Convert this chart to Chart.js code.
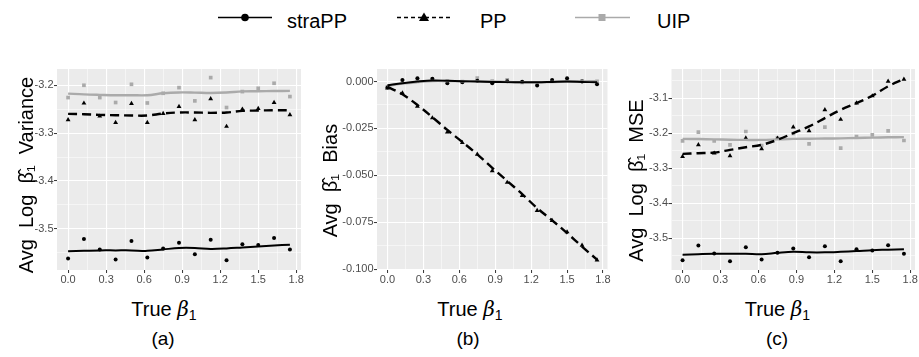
<!DOCTYPE html>
<html>
<head>
<meta charset="utf-8">
<script src="https://cdn.jsdelivr.net/npm/chart.js@4.4.1/dist/chart.umd.min.js"></script>
<style>
  html, body { margin: 0; padding: 0; background: #ffffff; }
  #wrap { position: relative; width: 919px; height: 357px; overflow: hidden; }
  #wrap canvas { position: absolute; }
  #labels { position: absolute; left: 0; top: 0; font-family: 'Liberation Sans', Arial, sans-serif; }
</style>
</head>
<body>
<div id="wrap">
  <svg id="labels" width="919" height="357">
    <!-- legend -->
    <line x1="218" y1="17.5" x2="272" y2="17.5" stroke="#000" stroke-width="1.4"/>
    <circle cx="245" cy="17.5" r="3.8" fill="#000"/>
    <text x="287" y="28" font-size="20">straPP</text>
    <line x1="397" y1="17.5" x2="452" y2="17.5" stroke="#000" stroke-width="1.3" stroke-dasharray="4 3"/>
    <polygon points="424,12.5 429,21 419,21" fill="#000"/>
    <text x="480" y="28" font-size="20">PP</text>
    <line x1="575" y1="17.5" x2="630" y2="17.5" stroke="#aaaaaa" stroke-width="1.5"/>
    <rect x="598.5" y="14" width="7" height="7" fill="#aaaaaa"/>
    <text x="657" y="28" font-size="20">UIP</text>
    <!-- x titles and captions -->
    <text x="164" y="315.5" font-size="20" text-anchor="middle">True <tspan font-style="italic" font-family="DejaVu Serif">β</tspan><tspan font-size="14" dy="4">1</tspan></text>
    <text x="470" y="315.5" font-size="20" text-anchor="middle">True <tspan font-style="italic" font-family="DejaVu Serif">β</tspan><tspan font-size="14" dy="4">1</tspan></text>
    <text x="777.5" y="315.5" font-size="20" text-anchor="middle">True <tspan font-style="italic" font-family="DejaVu Serif">β</tspan><tspan font-size="14" dy="4">1</tspan></text>
    <text x="163" y="345" font-size="19" text-anchor="middle">(a)</text>
    <text x="468" y="345" font-size="19" text-anchor="middle">(b)</text>
    <text x="777" y="345" font-size="19" text-anchor="middle">(c)</text>
  </svg>
  <canvas id="panelA" width="315" height="245" style="left:0px;top:55px"></canvas>
  <canvas id="panelB" width="305" height="245" style="left:310px;top:55px"></canvas>
  <canvas id="panelC" width="304" height="245" style="left:615px;top:55px"></canvas>
</div>

<script>
// true beta values (x axis)
const betaTrue = [0, 0.125, 0.25, 0.375, 0.5, 0.625, 0.75, 0.875, 1.0, 1.125, 1.25, 1.375, 1.5, 1.625, 1.75];

// (a) Avg Log beta1 Variance
const varStraPP = [-3.562, -3.521, -3.543, -3.564, -3.5255, -3.560, -3.541, -3.529, -3.553, -3.523, -3.5655, -3.532, -3.534, -3.519, -3.543];
const varPP     = [-3.2722, -3.2375, -3.2646, -3.2778, -3.2382, -3.2778, -3.259, -3.2444, -3.2722, -3.2285, -3.286, -3.25, -3.2486, -3.236, -3.2618];
const varUIP    = [-3.2257, -3.200, -3.2257, -3.236, -3.198, -3.237, -3.2167, -3.2049, -3.2326, -3.184, -3.2465, -3.2132, -3.2063, -3.1958, -3.2236];
const varStraPPFit = [-3.547, -3.546, -3.545, -3.545, -3.545, -3.546, -3.543, -3.540, -3.540, -3.542, -3.541, -3.539, -3.537, -3.535, -3.533];
const varPPFit     = [-3.2597, -3.2604, -3.2618, -3.2625, -3.2632, -3.2632, -3.259, -3.2569, -3.2569, -3.2576, -3.2569, -3.2535, -3.2528, -3.2521, -3.2521];
const varUIPFit    = [-3.2174, -3.219, -3.220, -3.2208, -3.2208, -3.2208, -3.2167, -3.215, -3.2153, -3.216, -3.215, -3.2128, -3.2125, -3.212, -3.2118];

// (b) Avg beta1 Bias
const biasStraPP = [-0.0032, 0.0009, 0.0018, 0.0015, -0.0009, -0.0004, 0.0004, -0.0009, 0.0002, -0.0001, -0.0021, 0.0009, 0.0018, 0.0000, -0.0014];
const biasPP     = [-0.0035, -0.0061, -0.0132, -0.0194, -0.0270, -0.0326, -0.0388, -0.0476, -0.0538, -0.0608, -0.0688, -0.0741, -0.0802, -0.0873, -0.0952];
const biasUIP    = [-0.0028, 0.0004, 0.0010, 0.0012, 0.0003, 0.0000, 0.0018, 0.0002, 0.0009, -0.0004, -0.0008, 0.0003, 0.0006, 0.0004, 0.0001];
const biasStraPPFit = [-0.0020, -0.0009, 0.0000, 0.0006, 0.0004, 0.0002, 0.0000, -0.0002, -0.0003, -0.0004, -0.0004, -0.0002, 0.0000, -0.0002, -0.0004];
const biasPPFit     = [-0.0028, -0.0068, -0.0125, -0.0190, -0.0258, -0.0322, -0.0388, -0.0460, -0.0530, -0.0600, -0.0675, -0.0740, -0.0808, -0.0880, -0.0950];
const biasUIPFit    = [-0.0023, -0.0011, -0.0003, 0.0003, 0.0003, 0.0002, 0.0001, 0.0000, -0.0002, -0.0004, -0.0004, -0.0002, 0.0000, 0.0001, 0.0002];

// (c) Avg Log beta1 MSE
const mseStraPP = [-3.563, -3.5209, -3.5438, -3.5659, -3.5257, -3.561, -3.5418, -3.5295, -3.5543, -3.5229, -3.5659, -3.5315, -3.5352, -3.520, -3.5447];
const msePP     = [-3.267, -3.2337, -3.2575, -3.265, -3.2145, -3.245, -3.215, -3.183, -3.1935, -3.1334, -3.161, -3.1143, -3.094, -3.052, -3.0465];
const mseUIP    = [-3.2222, -3.1974, -3.2222, -3.2337, -3.1955, -3.2355, -3.2145, -3.2011, -3.2308, -3.183, -3.2432, -3.2097, -3.205, -3.1935, -3.2212];
const mseStraPPFit = [-3.5476, -3.546, -3.5447, -3.5447, -3.5447, -3.546, -3.542, -3.539, -3.5405, -3.5405, -3.539, -3.537, -3.5343, -3.533, -3.5315];
const msePPFit     = [-3.2594, -3.2575, -3.2556, -3.248, -3.2403, -3.2336, -3.2193, -3.2002, -3.181, -3.1573, -3.1335, -3.1143, -3.0934, -3.0665, -3.0456];
const mseUIPFit    = [-3.2165, -3.217, -3.218, -3.219, -3.2195, -3.2195, -3.218, -3.2165, -3.216, -3.2155, -3.215, -3.214, -3.213, -3.212, -3.2115];

const xTicks = { min: -0.0875, max: 1.8375, step: 0.15, major: 0.3 };

const FONT = "'Liberation Sans', Arial, sans-serif";
const UIP_GREY = '#aaaaaa';

function isMajor(v, major) {
    const r = v / major;
    return Math.abs(r - Math.round(r)) < 1e-6;
}

const panelBg = {
    id: 'panelBg',
    beforeDraw(chart) {
        const a = chart.chartArea;
        const c = chart.ctx;
        c.save();
        c.fillStyle = '#ebebeb';
        c.fillRect(a.left, a.top, a.right - a.left, a.bottom - a.top);
        c.restore();
    }
};

function pts(ys) {
    return betaTrue.map((x, i) => ({ x: x, y: ys[i] }));
}

function axisGrid(major) {
    return {
        color: '#ffffff',
        lineWidth: (ctx) => (ctx.tick && isMajor(ctx.tick.value, major)) ? 1.1 : 0.5,
        drawTicks: true,
        tickLength: 3,
        tickWidth: 1,
        tickColor: (ctx) => (ctx.tick && isMajor(ctx.tick.value, major)) ? '#333333' : 'rgba(0,0,0,0)'
    };
}

function makePanel(id, lay, yAxis, series) {
    const ctx = document.getElementById(id).getContext('2d');
    return new Chart(ctx, {
        type: 'scatter',
        data: {
            datasets: [{
                label: 'straPP fit',
                data: pts(series[3]),
                showLine: true,
                borderColor: '#000000',
                borderWidth: 2,
                pointRadius: 0,
                tension: 0.35
            }, {
                label: 'PP fit',
                data: pts(series[4]),
                showLine: true,
                borderColor: '#000000',
                borderWidth: 2.4,
                borderDash: [9, 5],
                pointRadius: 0,
                tension: 0.35
            }, {
                label: 'UIP fit',
                data: pts(series[5]),
                showLine: true,
                borderColor: UIP_GREY,
                borderWidth: 2.4,
                pointRadius: 0,
                tension: 0.35
            }, {
                label: 'straPP',
                data: pts(series[0]),
                pointStyle: 'circle',
                pointRadius: 2,
                backgroundColor: '#000000',
                borderWidth: 0
            }, {
                label: 'PP',
                data: pts(series[1]),
                pointStyle: 'triangle',
                pointRadius: 2.8,
                backgroundColor: '#000000',
                borderWidth: 0
            }, {
                label: 'UIP',
                data: pts(series[2]),
                pointStyle: 'rect',
                pointRadius: 2.6,
                backgroundColor: UIP_GREY,
                borderWidth: 0
            }]
        },
        options: {
            responsive: false,
            animation: false,
            layout: {
                padding: { left: lay.padL, right: lay.padR, top: 14, bottom: 0 }
            },
            plugins: {
                legend: { display: false },
                tooltip: { enabled: false }
            },
            scales: {
                x: {
                    type: 'linear',
                    min: xTicks.min,
                    max: xTicks.max,
                    border: { display: false },
                    grid: axisGrid(xTicks.major),
                    ticks: {
                        stepSize: xTicks.step,
                        includeBounds: false,
                        autoSkip: false,
                        maxRotation: 0,
                        padding: 0,
                        color: '#4d4d4d',
                        font: { family: FONT, size: 11 },
                        callback: (v) => isMajor(v, xTicks.major) ? v.toFixed(1) : ''
                    },
                    afterFit: (scale) => { scale.height = 30; }
                },
                y: {
                    type: 'linear',
                    min: yAxis.min,
                    max: yAxis.max,
                    border: { display: false },
                    grid: axisGrid(yAxis.major),
                    ticks: {
                        stepSize: yAxis.step,
                        includeBounds: false,
                        autoSkip: false,
                        padding: 0.5,
                        color: '#4d4d4d',
                        font: { family: FONT, size: 11 },
                        callback: (v) => isMajor(v, yAxis.major) ? v.toFixed(yAxis.digits) : ''
                    },
                    title: {
                        display: true,
                        text: yAxis.title,
                        color: '#000000',
                        padding: 0,
                        font: { family: FONT, size: 20, lineHeight: 1.2 }
                    },
                    afterFit: (scale) => { scale.width = lay.yWidth; }
                }
            }
        },
        plugins: [panelBg]
    });
}

makePanel('panelA', { padL: 15, padR: 14, yWidth: 42 },
    { min: -3.586, max: -3.166, step: 0.05, major: 0.1, digits: 1, title: 'Avg  Log  β̂₁  Variance  ' },
    [varStraPP, varPP, varUIP, varStraPPFit, varPPFit, varUIPFit]);

makePanel('panelB', { padL: 9, padR: 7.5, yWidth: 58 },
    { min: -0.1005, max: 0.0067, step: 0.0125, major: 0.025, digits: 3, title: 'Avg  β̂₁  Bias    ' },
    [biasStraPP, biasPP, biasUIP, biasStraPPFit, biasPPFit, biasUIPFit]);

makePanel('panelC', { padL: 10, padR: 4, yWidth: 46.5 },
    { min: -3.591, max: -3.017, step: 0.05, major: 0.1, digits: 1, title: 'Avg  Log  β̂₁  MSE    ' },
    [mseStraPP, msePP, mseUIP, mseStraPPFit, msePPFit, mseUIPFit]);
</script>
</body>
</html>
